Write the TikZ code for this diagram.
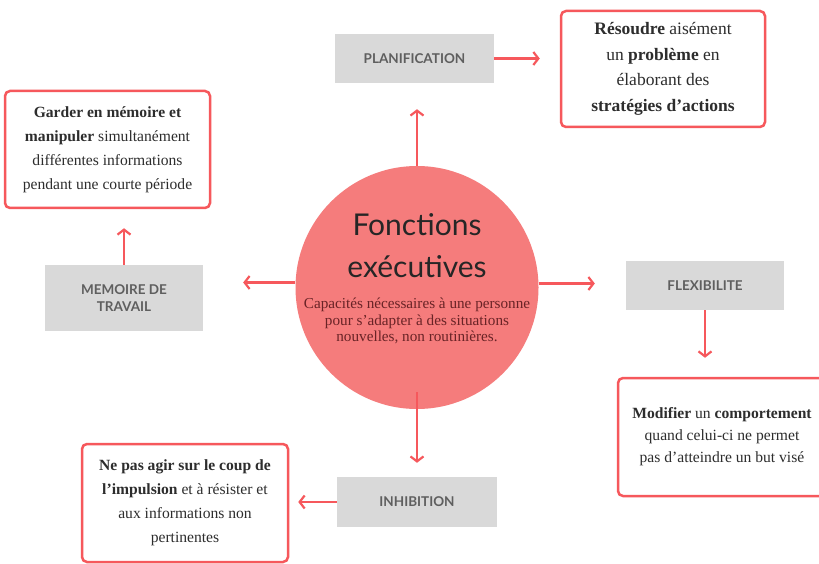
\documentclass[tikz,border=0pt]{standalone}
\usepackage{fontspec}
\setmainfont{Liberation Serif}
\newfontfamily\labfont{Lato}
\usetikzlibrary{arrows.meta}
\definecolor{salmon}{RGB}{245,124,124}
\definecolor{redline}{RGB}{246,88,92}
\definecolor{graybox}{RGB}{217,217,217}
\definecolor{graytext}{RGB}{95,95,95}
\definecolor{bodytext}{RGB}{45,45,45}
\definecolor{subtext}{RGB}{105,35,38}
\begin{document}
\begin{tikzpicture}[x=1pt,y=-1pt,
 gbox/.style={fill=graybox, inner sep=0pt, font=\labfont\bfseries\fontsize{13.5}{16.5}\selectfont, text=graytext, align=center},
 rbox/.style={draw=redline, line width=2.5pt, rounded corners=5pt, fill=white, inner sep=0pt, align=center, text=bodytext, font=\fontsize{15.6}{24}\selectfont},
 arr/.style={draw=redline, line width=2.2pt, -{Straight Barb[length=5pt,width=13pt]}}
]
\useasboundingbox (0,0) rectangle (819,564);
\fill[white] (0,0) rectangle (819,564);

% centre
\node[circle, fill=salmon, minimum size=243pt, inner sep=0pt] (circ) at (417,287.5) {};
\node[font=\labfont\fontsize{30}{42}\selectfont, text=black!85, align=center, inner sep=0pt] (title) at (417,246) {Fonctions\\exécutives};
\node[font=\fontsize{15.2}{16.8}\selectfont, text=subtext, align=center, inner sep=0pt] (sub) at (417,321) {Capacités nécessaires à une personne\\pour s'adapter à des situations\\nouvelles, non routinières.};

% gray boxes
\node[gbox, minimum width=159pt, minimum height=49pt] (plan) at (414.5,58.5) {PLANIFICATION};
\node[gbox, minimum width=158pt, minimum height=66pt] (mem) at (124,298) {MEMOIRE DE\\TRAVAIL};
\node[gbox, minimum width=158pt, minimum height=49pt] (flex) at (705,285.5) {FLEXIBILITE};
\node[gbox, minimum width=160pt, minimum height=50pt] (inh) at (417,502) {INHIBITION};

% red boxes
\node[rbox, minimum width=204pt, minimum height=116pt, font=\fontsize{17.5}{25.5}\selectfont] (res) at (663,69) {\textbf{Résoudre} aisément\\un \textbf{problème} en\\élaborant des\\\textbf{stratégies d'actions}};
\node[rbox, minimum width=205pt, minimum height=117pt] (gard) at (107.5,149.5) {\textbf{Garder en mémoire et}\\\textbf{manipuler} simultanément\\différentes informations\\pendant une courte période};
\node[rbox, minimum width=208pt, minimum height=118pt, font=\fontsize{15.6}{22}\selectfont] (mod) at (722,437) {\textbf{Modifier} un \textbf{comportement}\\quand celui-ci ne permet\\pas d'atteindre un but visé};
\node[rbox, minimum width=206pt, minimum height=118pt] (nep) at (185,503) {\textbf{Ne pas agir sur le coup de}\\\textbf{l'impulsion} et à résister et\\aux informations non\\pertinentes};

% connectors
\coordinate (cw) at ([yshift=5pt]circ.west);
\coordinate (ce) at ([yshift=4pt]circ.east);
\coordinate (cs) at ([yshift=17pt]circ.south);
\draw[arr, shorten >=26pt] (circ.north) -- (plan.south -| circ.north);
\draw[arr, shorten >=20pt] (plan.east) -- (plan.east -| res.west);
\draw[arr, shorten >=40pt] (cw) -- (cw -| mem.east);
\draw[arr, shorten >=19pt] (mem.north) -- (mem.north |- gard.south);
\draw[arr, shorten >=31pt] (ce) -- (ce -| flex.west);
\draw[arr, shorten >=19pt] (flex.south) -- (flex.south |- mod.north);
\draw[arr, shorten >=14pt] (cs) -- (cs |- inh.north);
\draw[arr, shorten >=9pt] (inh.west) -- (inh.west -| nep.east);
\end{tikzpicture}
\end{document}
